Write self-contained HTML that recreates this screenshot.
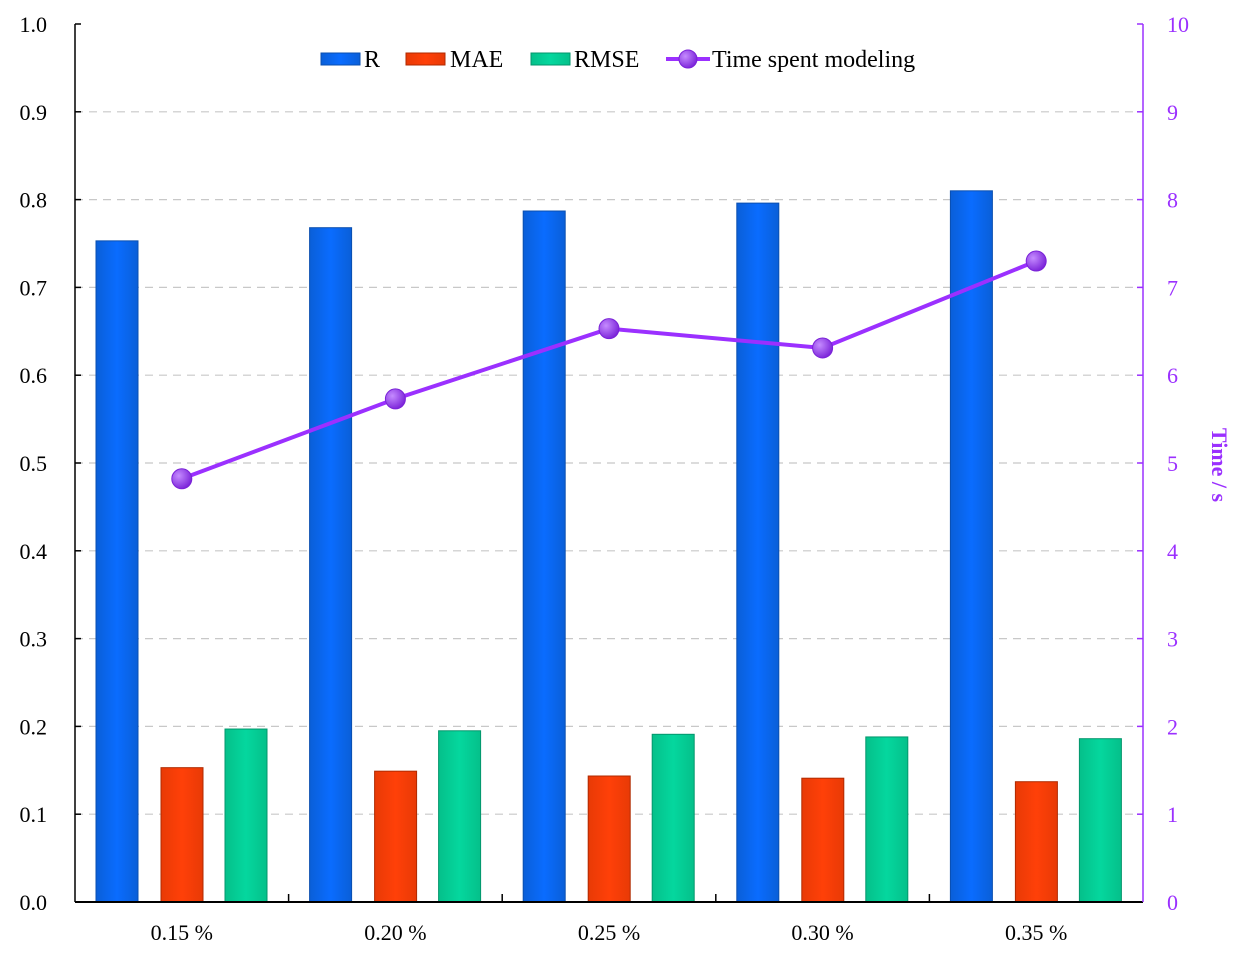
<!DOCTYPE html>
<html><head><meta charset="utf-8"><style>
body{margin:0;background:#fff}
svg{display:block;font-family:"Liberation Serif",serif}
</style></head><body>
<svg id="chart" width="1245" height="957" xmlns="http://www.w3.org/2000/svg">
<defs>
<linearGradient id="gR" x1="0" x2="1"><stop offset="0" stop-color="#0a5fd8"/><stop offset="0.5" stop-color="#0a6cff"/><stop offset="1" stop-color="#0a5fd8"/></linearGradient>
<linearGradient id="gM" x1="0" x2="1"><stop offset="0" stop-color="#e83a06"/><stop offset="0.5" stop-color="#ff4008"/><stop offset="1" stop-color="#e83a06"/></linearGradient>
<linearGradient id="gS" x1="0" x2="1"><stop offset="0" stop-color="#05c08a"/><stop offset="0.5" stop-color="#05d79e"/><stop offset="1" stop-color="#05c08a"/></linearGradient>
<radialGradient id="gP" cx="0.35" cy="0.35" r="0.7"><stop offset="0" stop-color="#c58bff"/><stop offset="1" stop-color="#7a22d8"/></radialGradient>
</defs>
</svg>
<script>
const categories=["0.15 %","0.20 %","0.25 %","0.30 %","0.35 %"];
const rValues=[0.753,0.768,0.787,0.796,0.810];
const maeValues=[0.153,0.149,0.1435,0.141,0.137];
const rmseValues=[0.197,0.195,0.191,0.188,0.186];
const timeValues=[4.82,5.73,6.53,6.31,7.30];
const leftTicks=["0.0","0.1","0.2","0.3","0.4","0.5","0.6","0.7","0.8","0.9","1.0"];
const rightTicks=["0","1","2","3","4","5","6","7","8","9","10"];

const svg=document.getElementById('chart');
const NS="http://www.w3.org/2000/svg";
const L=75,R=1143,T=24,B=902;
const yL=v=>B-(v/1.0)*(B-T);
const yR=v=>B-(v/10)*(B-T);
const gw=(R-L)/categories.length;
function mk(tag,attrs,parent){const e=document.createElementNS(NS,tag);for(const k in attrs)e.setAttribute(k,attrs[k]);(parent||svg).appendChild(e);return e;}

leftTicks.forEach((t,i)=>{
  const v=i/10,y=yL(v);
  if(i>0&&i<10){const g=mk('line',{x1:L,x2:R,y1:y,y2:y,stroke:'#c8c8c8','stroke-width':1.2,'stroke-dasharray':'8,6'});
  }
  const tk=mk('line',{x1:L,x2:L+6,y1:y,y2:y,stroke:'#000','stroke-width':1.5});
  
  const tx=mk('text',{x:L-28,y:y+8,'text-anchor':'end','font-size':22,fill:'#000'});
  tx.textContent=t;
});
rightTicks.forEach((t,i)=>{
  const y=yR(+t);
  const tk=mk('line',{x1:R-6,x2:R,y1:y,y2:y,stroke:'#9b30ff','stroke-width':1.5});
  
  const tx=mk('text',{x:R+24,y:y+8,'text-anchor':'start','font-size':22,fill:'#9b30ff'});
  tx.textContent=t;
});

const series=[[rValues,'url(#gR)','#0a4fb0','bar-r',21],[maeValues,'url(#gM)','#b02a00','bar-mae',86],[rmseValues,'url(#gS)','#03966c','bar-rmse',150]];
categories.forEach((c,i)=>{
  const gx=L+i*gw;
  series.forEach(([vals,fill,st,name,off])=>{
    const y=yL(vals[i]);
    const b=mk('rect',{x:gx+off,y:y,width:42,height:B-y,fill:fill,stroke:st,'stroke-width':1});
    
  });
  const tx=mk('text',{x:gx+gw/2,y:940,'text-anchor':'middle','font-size':22,fill:'#000'});
  tx.textContent=c;
  if(i>0){const tk=mk('line',{x1:gx,x2:gx,y1:B-8,y2:B,stroke:'#000','stroke-width':1.5});
  }
});

const ax1=mk('line',{x1:L,x2:L,y1:T,y2:B,stroke:'#000','stroke-width':1.5});

const ax2=mk('line',{x1:L,x2:R,y1:B,y2:B,stroke:'#000','stroke-width':2});

const ax3=mk('line',{x1:R,x2:R,y1:T,y2:B,stroke:'#9b30ff','stroke-width':1.5});


const pts=timeValues.map((v,i)=>[L+i*gw+gw/2,yR(v)]);
const pl=mk('polyline',{points:pts.map(p=>p.join(',')).join(' '),fill:'none',stroke:'#9b30ff','stroke-width':4});

pts.forEach(p=>{
  const c=mk('circle',{cx:p[0],cy:p[1],r:10,fill:'url(#gP)',stroke:'#7a22d8','stroke-width':1});
  
});

const rt=mk('text',{x:1212,y:465,'text-anchor':'middle','font-size':22,'font-weight':'bold',fill:'#9b30ff',transform:'rotate(90 1212 465)'});
rt.textContent='Time / s';

const lg=mk('g',{});

[['url(#gR)','#0a4fb0',321,'R',364],['url(#gM)','#b02a00',406,'MAE',450],['url(#gS)','#03966c',531,'RMSE',574]].forEach(([f,s,x,t,tx])=>{
  const r=mk('rect',{x:x,y:53,width:39,height:12,fill:f,stroke:s},lg);
  
  const e=mk('text',{x:tx,y:67,'font-size':24,fill:'#000'},lg);
  e.textContent=t;
});
const ll=mk('line',{x1:666,x2:710,y1:59,y2:59,stroke:'#9b30ff','stroke-width':4},lg);

const lc=mk('circle',{cx:688,cy:59,r:9,fill:'url(#gP)',stroke:'#7a22d8'},lg);

const lt=mk('text',{x:712,y:67,'font-size':24,fill:'#000'},lg);
lt.textContent='Time spent modeling';
</script>
</body></html>
